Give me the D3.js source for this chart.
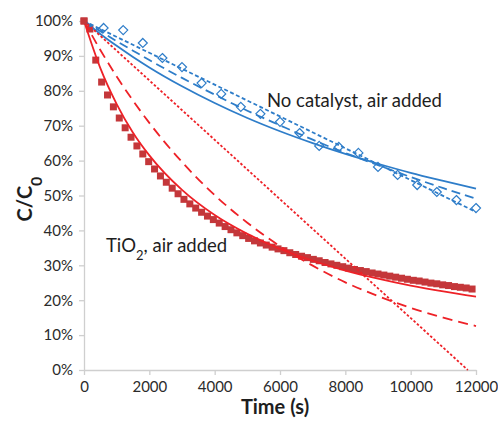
<!DOCTYPE html>
<html>
<head>
  <style>
    body{
      margin:0;
      background:#fff;
      font-family: Lato, sans-serif;
    }
    .axis path, .axis line{
      stroke:#cfcfcf;
      stroke-width:1.3px;
    }
    .axis text{
      fill:#2b2b2b;
      font-size:15px;
      font-family: Lato, sans-serif;
    }
    .axis-title{
      fill:#1e1e1e;
      font-weight:bold;
      font-size:20px;
    }
    .series-label{
      fill:#1e1e1e;
      font-size:18.5px;
    }
  </style>
  <script src="https://d3js.org/d3.v7.min.js"></script>
</head>
<body>
<div class="chart"></div>
<script>
// TiO2, air added: measured C/C0 (squares)
const tiTime = [0,180,360,540,720,900,1080,1260,1440,1620,1800,1980,2160,2340,2520,2700,2880,
  3060,3240,3420,3600,3780,3960,4140,4320,4500,4680,4860,5040,5220,5400,5580,5760,5940,
  6120,6300,6480,6660,6840,7020,7200,7380,7560,7740,7920,8100,8280,8460,8640,8820,9000,
  9180,9360,9540,9720,9900,10080,10260,10440,10620,10800,10980,11160,11340,11520,11700,11880];
const tiConc = [1.000,0.977,0.888,0.825,0.788,0.754,0.722,0.694,0.667,0.642,0.619,0.597,0.576,0.556,0.538,0.521,0.505,
  0.489,0.476,0.464,0.452,0.441,0.431,0.421,0.411,0.402,0.393,0.385,0.377,0.370,0.364,0.358,0.352,0.347,
  0.342,0.336,0.331,0.326,0.322,0.317,0.313,0.308,0.304,0.300,0.296,0.292,0.288,0.285,0.282,0.278,0.275,
  0.272,0.269,0.266,0.263,0.260,0.257,0.255,0.252,0.249,0.247,0.244,0.242,0.239,0.237,0.235,0.232];

// No catalyst, air added: measured C/C0 (diamonds)
const ncTime = [0,600,1200,1800,2400,3000,3600,4200,4800,5400,6000,6600,7200,7800,8400,9000,9600,10200,10800,11400,12000];
const ncConc = [1.000,0.980,0.974,0.937,0.894,0.868,0.822,0.791,0.754,0.734,0.711,0.679,0.642,0.639,0.622,0.582,0.559,0.530,0.510,0.487,0.464];

// fitted curves
const fitTime = [0,500,1000,1500,2000,3000,4000,5000,6000,7000,8000,9000,10000,11000,12000];
const tiSecond = [1.000,0.865,0.762,0.680,0.615,0.516,0.444,0.390,0.347,0.313,0.285,0.262,0.242,0.225,0.210];
const tiFirst  = [1.000,0.917,0.841,0.772,0.708,0.596,0.501,0.422,0.355,0.299,0.251,0.212,0.178,0.150,0.126];
const tiZeroTime = [0,11750];
const tiZero     = [1.000,0.000];
const ncSecond = [1.000,0.963,0.929,0.897,0.867,0.813,0.765,0.722,0.684,0.650,0.619,0.591,0.565,0.542,0.520];
const ncFirst  = [1.000,0.971,0.942,0.915,0.888,0.837,0.789,0.743,0.701,0.660,0.622,0.587,0.553,0.521,0.491];
const ncZeroTime = [0,12000];
const ncZero     = [1.000,0.453];

const xTicks = [0,2000,4000,6000,8000,10000,12000];
const yTicks = [0,0.1,0.2,0.3,0.4,0.5,0.6,0.7,0.8,0.9,1.0];

const width = 498, height = 422;
const blue = '#2e7dc9', red = '#ee2127', redMark = '#c4373a';

const svg = d3.select('.chart').append('svg')
  .attr('width', width)
  .attr('height', height);

const x = d3.scaleLinear().domain([0,12000]).range([84,476]);
const y = d3.scaleLinear().domain([0,1]).range([370,21]);

// axes
svg.append('g')
  .attr('class','axis')
  .attr('transform','translate(0,370)')
  .call(d3.axisBottom(x).tickValues(xTicks).tickFormat(d3.format('d')).tickSize(5).tickPadding(6).tickSizeOuter(0));

svg.append('g')
  .attr('class','axis')
  .attr('transform','translate(84,0)')
  .call(d3.axisLeft(y).tickValues(yTicks).tickFormat(d3.format('.0%')).tickSize(5).tickPadding(6).tickSizeOuter(0));

svg.append('text')
  .attr('class','axis-title')
  .attr('x', 275)
  .attr('y', 414)
  .attr('text-anchor','middle')
  .text('Time (s)');

const yt = svg.append('text')
  .attr('class','axis-title')
  .attr('font-size','24px')
  .attr('transform','translate(32,199) rotate(-90)')
  .attr('text-anchor','middle');
yt.append('tspan').text('C/C');
yt.append('tspan').attr('baseline-shift','sub').attr('font-size','16px').text('0');

// markers
const toPts = (ts, cs) => ts.map((t,i)=>({t, c:cs[i]}));

svg.append('g').selectAll('rect')
  .data(toPts(tiTime, tiConc))
  .join('rect')
  .attr('x', d=>x(d.t)-3.5)
  .attr('y', d=>y(d.c)-3.5)
  .attr('width',7)
  .attr('height',7)
  .attr('fill', redMark);

const diamond = d3.symbol().type(d3.symbolDiamond2).size(52);
svg.append('g').selectAll('path')
  .data(toPts(ncTime, ncConc).slice(1))
  .join('path')
  .attr('transform', d=>`translate(${x(d.t)},${y(d.c)})`)
  .attr('d', diamond)
  .attr('fill','#fff')
  .attr('stroke', blue)
  .attr('stroke-width',1.2);

// fit lines
const line = d3.line()
  .x(d=>x(d.t))
  .y(d=>y(d.c))
  .curve(d3.curveMonotoneX);

const fits = [
  {pts: toPts(fitTime, ncSecond), color: blue, dash: null},
  {pts: toPts(fitTime, ncFirst), color: blue, dash: '9,5'},
  {pts: toPts(ncZeroTime, ncZero), color: blue, dash: '4,2.5'},
  {pts: toPts(fitTime, tiSecond), color: red, dash: null},
  {pts: toPts(fitTime, tiFirst), color: red, dash: '10,6'},
  {pts: toPts(tiZeroTime, tiZero), color: red, dash: '2.5,2'}
];

svg.append('g').selectAll('path')
  .data(fits)
  .join('path')
  .attr('d', d=>line(d.pts))
  .attr('fill','none')
  .attr('stroke', d=>d.color)
  .attr('stroke-width',1.8)
  .attr('stroke-dasharray', d=>d.dash);

// the t=0 point sits on top of everything
svg.append('rect')
  .attr('x', x(0)-3.5).attr('y', y(1)-3.5)
  .attr('width',7).attr('height',7)
  .attr('fill', redMark);

// series labels
svg.append('text')
  .attr('class','series-label')
  .attr('x',267).attr('y',107)
  .text('No catalyst, air added');

const tl = svg.append('text')
  .attr('class','series-label')
  .attr('x',106).attr('y',252);
tl.append('tspan').text('TiO');
tl.append('tspan').attr('baseline-shift','sub').attr('font-size','13px').text('2');
tl.append('tspan').attr('baseline-shift','baseline').text(', air added');
</script>
</body>
</html>
